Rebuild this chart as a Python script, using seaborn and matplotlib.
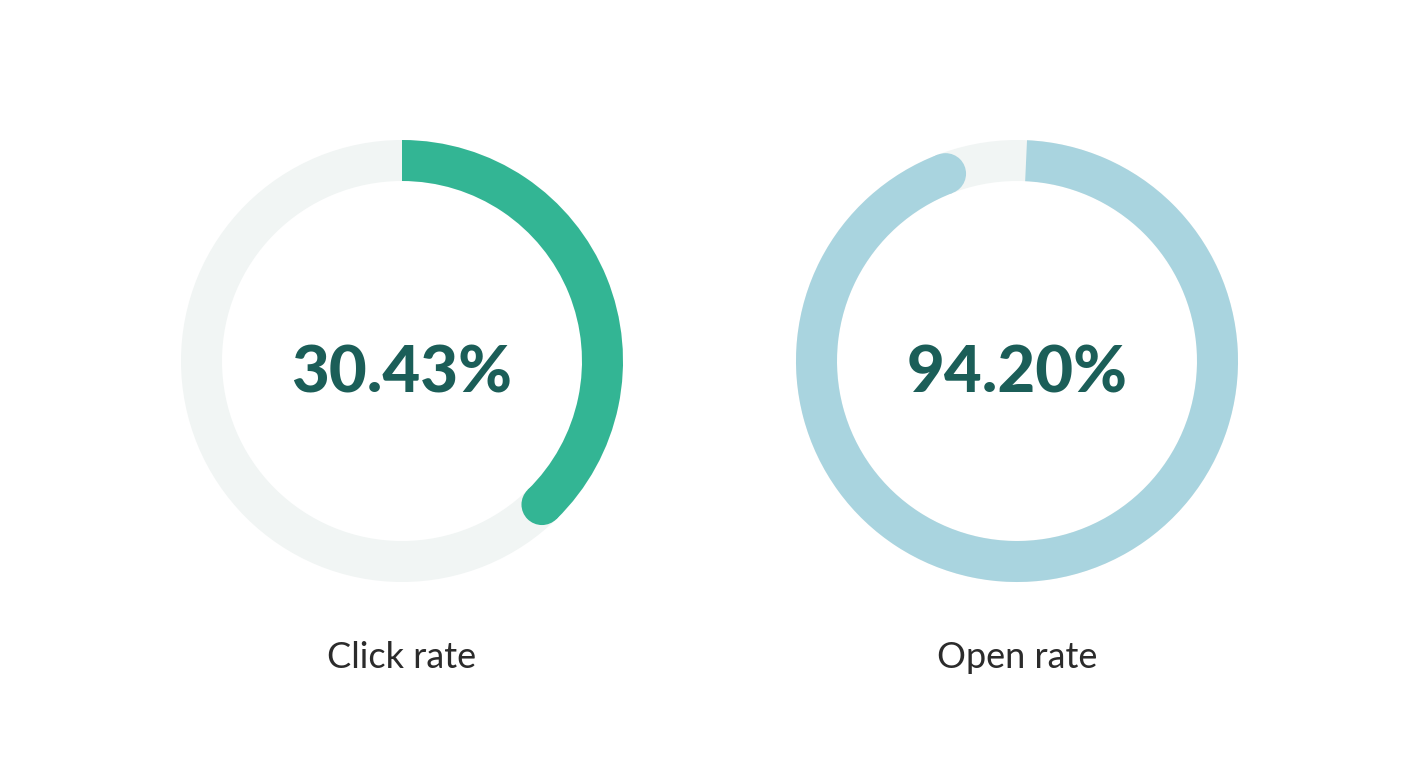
import numpy as np
import seaborn as sns
import matplotlib.pyplot as plt
from matplotlib.patches import Wedge, Circle

# gauge data
labels = ["Click rate", "Open rate"]
values = ["30.43%", "94.20%"]
arc_share = [0.377, 0.942]   # share of the ring that is filled, as drawn
colors = ["#33b594", "#a9d4df"]

sns.set_theme(style="white")
plt.rcParams['font.family'] = ['Lato', 'DejaVu Sans']

W, H = 1420, 770
fig = plt.figure(figsize=(W / 100, H / 100), dpi=100)
ax = fig.add_axes([0, 0, 1, 1])
ax.set_xlim(0, W)
ax.set_ylim(H, 0)
ax.set_aspect('equal')
ax.axis('off')

centers_x = [402, 1017]
start_off = [0, 2.6]   # the open-rate arc starts a touch right of top
cy = 361
r_out = 221
ring = 41
r_mid = r_out - ring / 2

for i in range(2):
    cx = centers_x[i]
    # background ring
    ax.add_patch(Wedge((cx, cy), r_out, 0, 360, width=ring,
                       facecolor="#f1f5f4", edgecolor="none"))
    # y axis is inverted, so angles go clockwise on screen
    start = -90 + start_off[i]
    end = -90 + 360 * arc_share[i]
    ax.add_patch(Wedge((cx, cy), r_out, start, end, width=ring,
                       facecolor=colors[i], edgecolor="none"))
    a = np.deg2rad(end)
    ax.add_patch(Circle((cx + r_mid * np.cos(a), cy + r_mid * np.sin(a)),
                        ring / 2, facecolor=colors[i], edgecolor="none"))
    ax.text(cx, cy + 13, values[i], ha='center', va='center',
            fontsize=47, fontweight='black', color="#1b5e58")
    ax.text(cx, 657, labels[i], ha='center', va='center',
            fontsize=26, color="#2b2b2b")

fig.savefig("out.png", dpi=100)
